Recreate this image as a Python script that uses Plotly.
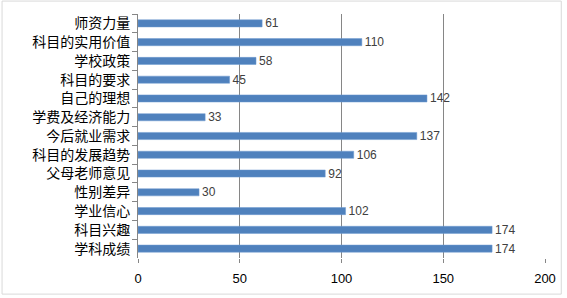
import plotly.graph_objects as go

categories = ["师资力量", "科目的实用价值", "学校政策", "科目的要求", "自己的理想", "学费及经济能力",
              "今后就业需求", "科目的发展趋势", "父母老师意见", "性别差异", "学业信心", "科目兴趣", "学科成绩"]
values = [61, 110, 58, 45, 142, 33, 137, 106, 92, 30, 102, 174, 174]
x_ticks = [0, 50, 100, 150, 200]

fig = go.Figure(go.Bar(
    y=categories, x=values, orientation="h",
    marker=dict(color="#4F81BD", line=dict(color="#6E9BD0", width=0.5)),
    text=[str(v) for v in values], textposition="outside", cliponaxis=False,
    constraintext="none",
    textfont=dict(family="Liberation Sans, Arial", size=12, color="#404040"),
    hoverinfo="skip",
))

fig.update_layout(
    width=567, height=298,
    margin=dict(l=138, r=22, t=14, b=40),
    paper_bgcolor="white", plot_bgcolor="white",
    bargap=0.62, showlegend=False,
    font=dict(family="Noto Sans CJK SC", size=13, color="#000000"),
    xaxis=dict(range=[0, 200], tickvals=x_ticks, showgrid=True, gridcolor="#868686", gridwidth=1,
               zeroline=False, showline=False, ticks="outside", ticklen=4, tickcolor="#868686",
               ticklabelstandoff=4,
               tickfont=dict(family="Liberation Sans, Arial", size=13, color="#000000")),
    yaxis=dict(autorange="reversed", showline=True, linecolor="#868686", linewidth=1,
               ticks="outside", ticklen=5, tickcolor="#868686", tickson="boundaries",
               ticklabelstandoff=4,
               tickfont=dict(family="Noto Sans CJK SC", size=14, color="#000000")),
    shapes=[dict(type="rect", xref="paper", yref="paper", x0=-0.334, x1=1.04, y0=-0.148, y1=1.053,
                 line=dict(color="#D9D9D9", width=1))],
)

fig.write_html("out.html", config={"displayModeBar": False, "staticPlot": True},
               post_script="document.body.style.margin='0';document.body.style.overflow='hidden';")
